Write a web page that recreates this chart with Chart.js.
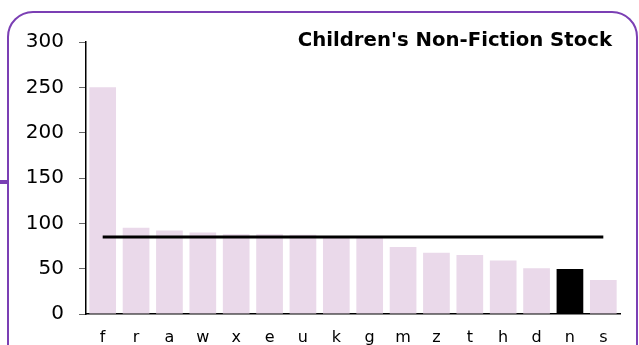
<!DOCTYPE html>
<html>
<head>
    <title>Children's Non-Fiction Stock</title>
    <style type="text/css">
        html, body {
            margin: 0;
            padding: 0;
            background: #ffffff;
            overflow: hidden;
        }
        #wrap {
            position: relative;
            width: 639px;
            height: 345px;
            overflow: hidden;
        }
        #frame {
            position: absolute;
            left: 7px;
            top: 11px;
            width: 627px;
            height: 360px;
            border: 2px solid #7b3fb4;
            border-radius: 26px;
        }
        #stub {
            position: absolute;
            left: 0;
            top: 180px;
            width: 9px;
            height: 4px;
            background: #7b3fb4;
        }
        #mycanvas {
            position: absolute;
            left: 0;
            top: 0;
        }
    </style>
</head>
<body>
    <div id="wrap">
        <div id="frame"></div>
        <div id="stub"></div>
        <canvas id="mycanvas" width="639" height="345"></canvas>
    </div>

    <script type="text/javascript" src="https://cdn.jsdelivr.net/npm/chart.js@4/dist/chart.umd.min.js"></script>
    <script>
        var branches = ["f", "r", "a", "w", "x", "e", "u", "k", "g", "m", "z", "t", "h", "d", "n", "s"];
        var stock = [250, 95, 92, 90, 88, 88, 87.5, 84, 84, 74, 67.5, 65, 59, 50.5, 49.5, 37.5];
        var average = [85, 85, 85, 85, 85, 85, 85, 85, 85, 85, 85, 85, 85, 85, 85, 85];
        var highlight = "n";
        var yTicks = [0, 50, 100, 150, 200, 250, 300];

        var barColours = [];
        for (var i in branches) {
            barColours.push(branches[i] == highlight ? "#000000" : "#ead9ea");
        }

        // title sits inside the plot, top right
        var cornerTitle = {
            id: "cornerTitle",
            afterDraw: function (chart) {
                var ctx = chart.ctx;
                ctx.save();
                ctx.font = "bold 19.7px 'DejaVu Sans'";
                ctx.fillStyle = "#000000";
                ctx.textAlign = "right";
                ctx.textBaseline = "alphabetic";
                ctx.fillText("Children's Non-Fiction Stock", 612, 46);
                ctx.restore();
            }
        };

        var chartdata = {
            labels: branches,
            datasets: [
                {
                    type: "line",
                    label: "average",
                    data: average,
                    borderColor: "#000000",
                    borderWidth: 3,
                    pointRadius: 0,
                    fill: false,
                    order: 0,
                },
                {
                    type: "bar",
                    label: "stock",
                    data: stock,
                    backgroundColor: barColours,
                    borderWidth: 0,
                    barPercentage: 0.8,
                    categoryPercentage: 1.0,
                    order: 1,
                },
            ],
        };

        var ctx = document.getElementById("mycanvas");

        var barGraph = new Chart(ctx, {
            type: "bar",
            data: chartdata,
            plugins: [cornerTitle],
            options: {
                responsive: false,
                animation: false,
                layout: {
                    padding: { top: 42, right: 19, left: 0, bottom: 0 },
                },
                plugins: {
                    legend: { display: false },
                    tooltip: { enabled: false },
                },
                scales: {
                    x: {
                        grid: { display: false },
                        border: { color: "#000000", width: 1.5 },
                        ticks: {
                            color: "#000000",
                            padding: 6,
                            font: { family: "DejaVu Sans", size: 16 },
                        },
                        afterFit: function (scale) {
                            scale.height = 31;
                        },
                    },
                    y: {
                        min: 0,
                        max: 300,
                        afterBuildTicks: function (scale) {
                            scale.ticks = yTicks.map(function (v) { return { value: v }; });
                        },
                        grid: {
                            drawOnChartArea: false,
                            drawTicks: true,
                            tickLength: 7,
                            color: "#666666",
                        },
                        border: { color: "#000000", width: 1.5 },
                        ticks: {
                            color: "#000000",
                            padding: 15,
                            font: { family: "DejaVu Sans", size: 20 },
                        },
                        afterFit: function (scale) {
                            scale.width = 86;
                        },
                    },
                },
            },
        });
    </script>
</body>
</html>
